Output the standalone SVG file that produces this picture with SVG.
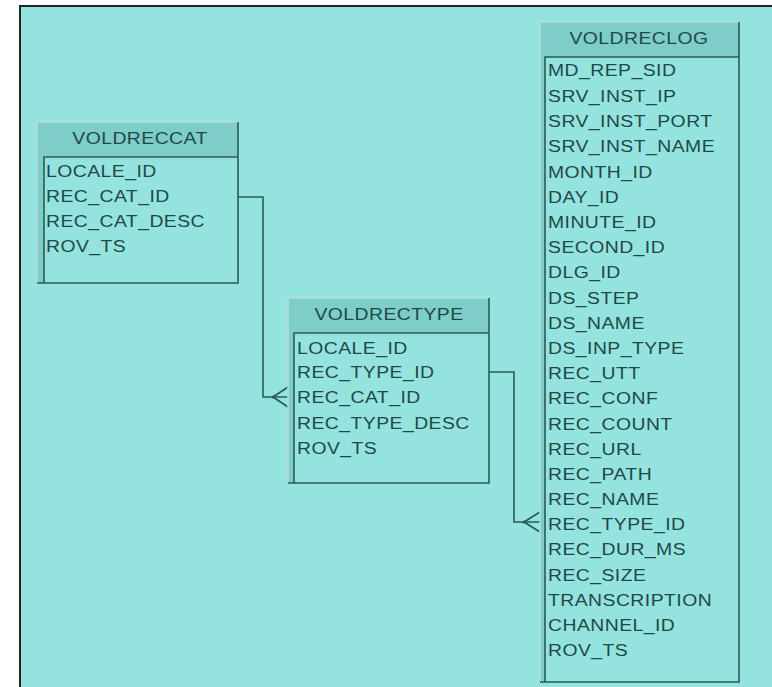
<svg xmlns="http://www.w3.org/2000/svg" width="772" height="687" viewBox="0 0 772 687">
<defs>
<style>
.txt{font-family:"Liberation Sans",Arial,sans-serif;font-size:17px;letter-spacing:0.4px;fill:#1f4946}
.hdr{text-anchor:middle}
.frame{fill:#7ecdc8}
.body{fill:#95e3df}
.lite{stroke:#b9dcd9;stroke-width:1.5;fill:none}
.dark{stroke:#285b58;stroke-width:1.6;fill:none}
.conn{stroke:#285b58;stroke-width:1.6;fill:none}
</style>
</defs>
<rect x="0" y="0" width="772" height="687" fill="#ffffff"/>
<rect x="20" y="6" width="760" height="690" fill="#95e3df"/>
<path d="M20,687 V6 H772" stroke="#222" stroke-width="2" fill="none"/>

<g id="connectors">
<path class="conn" d="M238,197 H263 V397 H288"/>
<path class="conn" d="M273,397 L288,387 M273,397 L288,407"/>
<circle cx="273" cy="397" r="1.6" fill="#285b58"/>
<path class="conn" d="M489,372 H514 V522 H540"/>
<path class="conn" d="M524,522 L540,512 M524,522 L540,532"/>
<circle cx="524" cy="522" r="1.6" fill="#285b58"/>
</g>

<g id="VOLDRECCAT">
<rect class="frame" x="37" y="122" width="201" height="161"/>
<rect class="body" x="44" y="157" width="194" height="126"/>
<path class="lite" d="M37,283 V122 H238"/>
<path class="dark" d="M238,122 V283 H37"/>
<path class="dark" d="M44,283 V157 H238"/>
<g transform="translate(140,0) scale(1.14,1)"><text class="txt hdr" x="0" y="144">VOLDRECCAT</text></g>
<g transform="translate(46,0) scale(1.14,1)">
<text class="txt" x="0" y="177">LOCALE_ID</text>
<text class="txt" x="0" y="202">REC_CAT_ID</text>
<text class="txt" x="0" y="227">REC_CAT_DESC</text>
<text class="txt" x="0" y="252">ROV_TS</text>
</g>
</g>

<g id="VOLDRECTYPE">
<rect class="frame" x="288" y="298" width="201" height="185"/>
<rect class="body" x="294" y="333" width="195" height="150"/>
<path class="lite" d="M288,483 V298 H489"/>
<path class="dark" d="M489,298 V483 H288"/>
<path class="dark" d="M294,483 V333 H489"/>
<g transform="translate(389,0) scale(1.14,1)"><text class="txt hdr" x="0" y="320">VOLDRECTYPE</text></g>
<g transform="translate(297,0) scale(1.14,1)">
<text class="txt" x="0" y="354">LOCALE_ID</text>
<text class="txt" x="0" y="378">REC_TYPE_ID</text>
<text class="txt" x="0" y="403">REC_CAT_ID</text>
<text class="txt" x="0" y="429">REC_TYPE_DESC</text>
<text class="txt" x="0" y="454">ROV_TS</text>
</g>
</g>

<g id="VOLDRECLOG">
<rect class="frame" x="540" y="22" width="199" height="660"/>
<rect class="body" x="545" y="57" width="194" height="625"/>
<path class="lite" d="M540,682 V22 H739"/>
<path class="dark" d="M739,22 V682 H540"/>
<path class="dark" d="M545,682 V57 H739"/>
<g transform="translate(639,0) scale(1.14,1)"><text class="txt hdr" x="0" y="44">VOLDRECLOG</text></g>
<g transform="translate(548,0) scale(1.14,1)">
<text class="txt" x="0" y="76">MD_REP_SID</text>
<text class="txt" x="0" y="102">SRV_INST_IP</text>
<text class="txt" x="0" y="127">SRV_INST_PORT</text>
<text class="txt" x="0" y="152">SRV_INST_NAME</text>
<text class="txt" x="0" y="178">MONTH_ID</text>
<text class="txt" x="0" y="203">DAY_ID</text>
<text class="txt" x="0" y="228">MINUTE_ID</text>
<text class="txt" x="0" y="253">SECOND_ID</text>
<text class="txt" x="0" y="278">DLG_ID</text>
<text class="txt" x="0" y="304">DS_STEP</text>
<text class="txt" x="0" y="329">DS_NAME</text>
<text class="txt" x="0" y="354">DS_INP_TYPE</text>
<text class="txt" x="0" y="379">REC_UTT</text>
<text class="txt" x="0" y="404">REC_CONF</text>
<text class="txt" x="0" y="430">REC_COUNT</text>
<text class="txt" x="0" y="455">REC_URL</text>
<text class="txt" x="0" y="480">REC_PATH</text>
<text class="txt" x="0" y="505">REC_NAME</text>
<text class="txt" x="0" y="530">REC_TYPE_ID</text>
<text class="txt" x="0" y="555">REC_DUR_MS</text>
<text class="txt" x="0" y="581">REC_SIZE</text>
<text class="txt" x="0" y="606">TRANSCRIPTION</text>
<text class="txt" x="0" y="631">CHANNEL_ID</text>
<text class="txt" x="0" y="656">ROV_TS</text>
</g>
</g>
</svg>
